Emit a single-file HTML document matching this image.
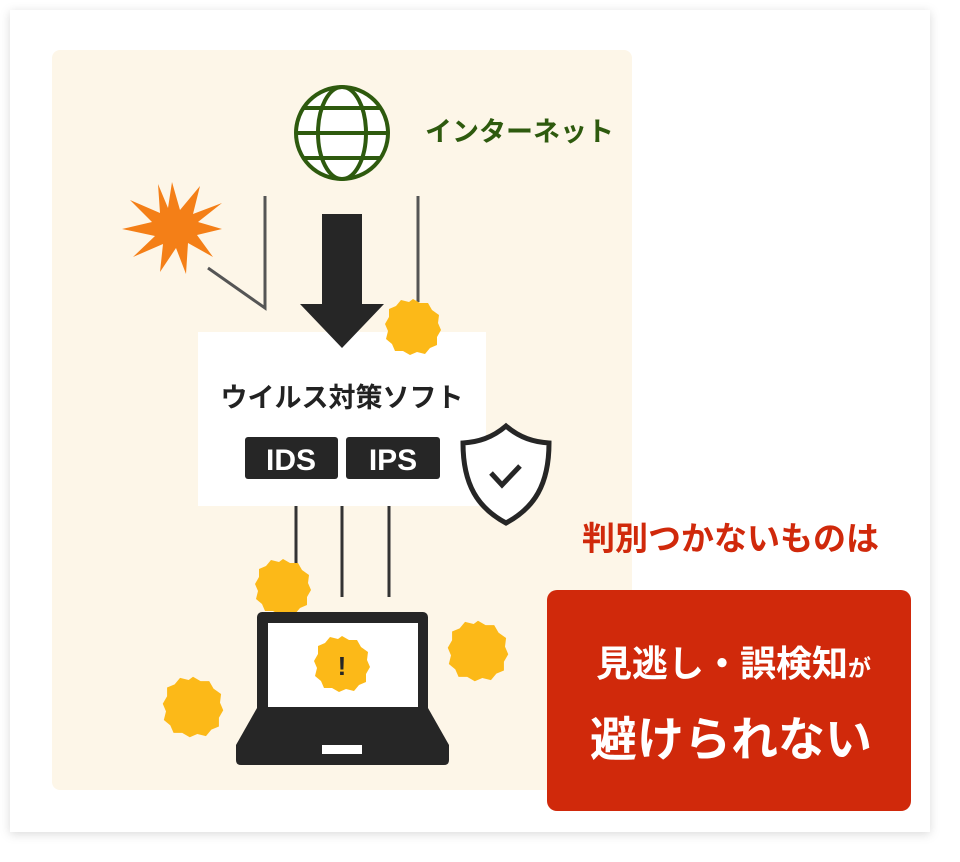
<!DOCTYPE html>
<html><head><meta charset="utf-8"><style>
html,body{margin:0;padding:0;background:#fff;width:960px;height:862px;overflow:hidden}
svg{display:block}
text{font-family:"Liberation Sans","Noto Sans CJK JP",sans-serif;font-weight:bold}
</style></head><body>
<svg width="960" height="862" viewBox="0 0 960 862" xmlns="http://www.w3.org/2000/svg">
<defs>
<filter id="sh" x="-5%" y="-5%" width="110%" height="110%"><feDropShadow dx="0" dy="2" stdDeviation="5" flood-color="#000" flood-opacity="0.15"/></filter>
<path id="blob" d="M0,-28 L7,-24 15,-24 19,-17 26,-12 25,-4 28,3 24,10 24,18 17,21 12,27 4,25 -3,28 -10,24 -18,24 -21,17 -27,12 -25,4 -28,-3 -24,-10 -24,-18 -17,-21 -12,-27 -4,-25Z" fill="#fcb918"/>
</defs>
<rect x="10" y="10" width="920" height="822" fill="#fff" filter="url(#sh)"/>
<rect x="52" y="50" width="580" height="740" rx="8" fill="#fdf6e8"/>
<!-- globe -->
<g fill="none" stroke="#2e5a0e" stroke-width="4">
<circle cx="342" cy="133" r="46" fill="#fff"/>
<ellipse cx="342" cy="133" rx="24" ry="46"/>
<line x1="298" y1="133" x2="386" y2="133"/>
<line x1="304" y1="108" x2="380" y2="108"/>
<line x1="304" y1="158" x2="380" y2="158"/>
</g>
<text x="425" y="141" font-size="27" fill="#2e5a0e">インターネット</text>
<!-- starburst -->
<polygon fill="#f47f17" points="172,182 180,210 200,186 193,214 222,203 198,222 222,229 197,235 213,257 188,243 186,274 176,248 160,272 163,244 133,257 155,236 122,229 152,222 130,200 160,213 158,184 168,208" />
<g stroke="#555" stroke-width="3" fill="none">
<polyline points="208,268 265,308 265,196"/>
<line x1="418" y1="196" x2="418" y2="302"/>
</g>
<!-- white box -->
<rect x="198" y="332" width="288" height="174" fill="#fff"/>
<!-- arrow -->
<rect x="322" y="214" width="40" height="92" fill="#262626"/>
<polygon points="300,304 384,304 342,348" fill="#262626"/>
<use href="#blob" x="413" y="327"/>
<text x="342" y="407" font-size="27" fill="#222" text-anchor="middle">ウイルス対策ソフト</text>
<rect x="245" y="437" width="93" height="42" rx="3" fill="#262626"/>
<rect x="346" y="437" width="94" height="42" rx="3" fill="#262626"/>
<text x="291" y="470" font-size="30" fill="#fff" text-anchor="middle">IDS</text>
<text x="393" y="470" font-size="30" fill="#fff" text-anchor="middle">IPS</text>
<!-- shield -->
<path d="M506,426 C492,438 478,442 463,443 C463,485 478,508 506,523 C534,508 549,485 549,443 C534,442 520,438 506,426Z" fill="#fff" stroke="#262626" stroke-width="5"/>
<polyline points="491,473 502,485 520,466" fill="none" stroke="#262626" stroke-width="5"/>
<!-- lines down -->
<g stroke="#333" stroke-width="3">
<line x1="296" y1="506" x2="296" y2="570"/>
<line x1="342" y1="506" x2="342" y2="597"/>
<line x1="389" y1="506" x2="389" y2="597"/>
</g>
<use href="#blob" x="283" y="587"/>
<!-- laptop -->
<rect x="257" y="612" width="171" height="102" rx="5" fill="#262626"/>
<rect x="268" y="623" width="150" height="84" fill="#fff"/>
<path d="M257,708 L428,708 L449,745 L449,760 Q449,765 444,765 L241,765 Q236,765 236,760 L236,745Z" fill="#262626"/>
<rect x="322" y="745" width="40" height="9" fill="#fff"/>
<use href="#blob" x="342" y="664"/>
<text x="342" y="675" font-size="26" fill="#262626" text-anchor="middle">!</text>
<use href="#blob" x="478" y="651" transform="translate(478,651) scale(1.08) translate(-478,-651)"/>
<use href="#blob" x="193" y="707" transform="translate(193,707) scale(1.08) translate(-193,-707)"/>
<!-- red -->
<text x="582" y="550" font-size="33" fill="#d0290b">判別つかないものは</text>
<rect x="547" y="590" width="364" height="221" rx="10" fill="#d0290b"/>
<text x="596" y="676" font-size="36" fill="#fff">見逃し・誤検知<tspan font-size="23">が</tspan></text>
<text x="590" y="756" font-size="47" fill="#fff">避けられない</text>
</svg>
</body></html>
